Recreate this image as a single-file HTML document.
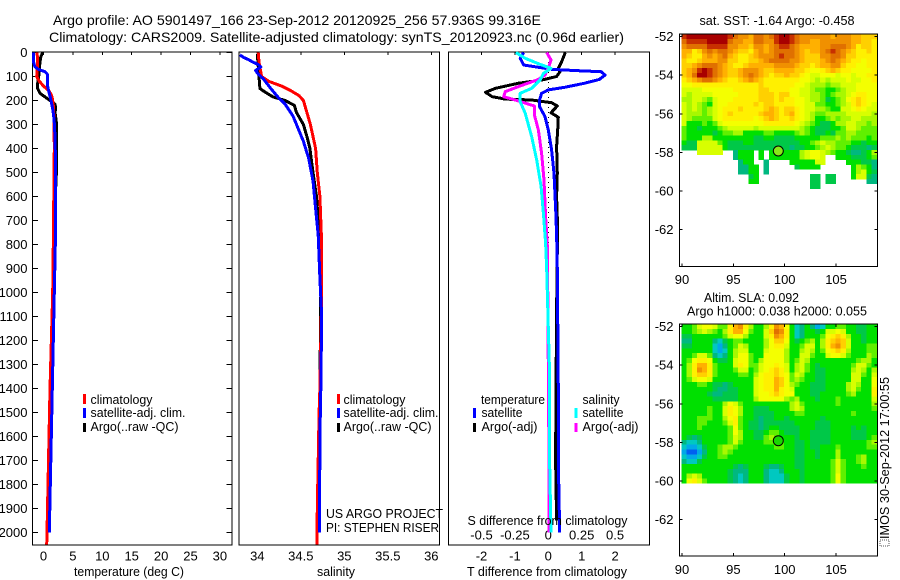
<!DOCTYPE html>
<html lang="en">
<head>
<meta charset="utf-8">
<title>Argo profile 5901497_166</title>
<style>
html,body{margin:0;padding:0;background:#fff;}
svg{display:block;}
text{font-family:"Liberation Sans",Arial,sans-serif;fill:#000;}
</style>
</head>
<body>
<svg id="chart" xmlns="http://www.w3.org/2000/svg" width="900" height="580" viewBox="0 0 900 580">
  <rect x="0" y="0" width="900" height="580" fill="#fff"/>
  <g id="sst-cells"></g>
  <g id="sla-cells"></g>
  <g id="axes"></g>
  <g id="lines"></g>

  <text x="53" y="25" font-size="14" textLength="488" lengthAdjust="spacingAndGlyphs">Argo profile: AO 5901497_166 23-Sep-2012 20120925_256 57.936S 99.316E</text>
  <text x="49" y="42" font-size="14" textLength="575" lengthAdjust="spacingAndGlyphs">Climatology: CARS2009. Satellite-adjusted climatology: synTS_20120923.nc (0.96d earlier)</text>

  <text x="74" y="576" font-size="13" textLength="110" lengthAdjust="spacingAndGlyphs">temperature (deg C)</text>
  <text x="317" y="576" font-size="13" textLength="38" lengthAdjust="spacingAndGlyphs">salinity</text>
  <text x="467" y="576" font-size="13" textLength="160" lengthAdjust="spacingAndGlyphs">T difference from climatology</text>
  <text x="467.5" y="525" font-size="13" textLength="160" lengthAdjust="spacingAndGlyphs">S difference from climatology</text>

  <g font-size="12.5">
    <rect x="83" y="394" width="3" height="10" fill="#f00"/>
    <rect x="83" y="408" width="3" height="10" fill="#00f"/>
    <rect x="83" y="423" width="3" height="9" fill="#000"/>
    <text x="90.5" y="404" textLength="62" lengthAdjust="spacingAndGlyphs">climatology</text>
    <text x="90.5" y="417" textLength="95" lengthAdjust="spacingAndGlyphs">satellite-adj. clim.</text>
    <text x="90.5" y="431" textLength="88" lengthAdjust="spacingAndGlyphs">Argo(..raw -QC)</text>
  </g>
  <g font-size="12.5">
    <rect x="337" y="394" width="3" height="10" fill="#f00"/>
    <rect x="337" y="408" width="3" height="10" fill="#00f"/>
    <rect x="337" y="423" width="3" height="9" fill="#000"/>
    <text x="343.5" y="404" textLength="62" lengthAdjust="spacingAndGlyphs">climatology</text>
    <text x="343.5" y="417" textLength="95" lengthAdjust="spacingAndGlyphs">satellite-adj. clim.</text>
    <text x="343.5" y="431" textLength="88" lengthAdjust="spacingAndGlyphs">Argo(..raw -QC)</text>
  </g>
  <text x="326" y="518" font-size="12.5" textLength="117" lengthAdjust="spacingAndGlyphs">US ARGO PROJECT</text>
  <text x="326" y="532" font-size="12.5" textLength="113" lengthAdjust="spacingAndGlyphs">PI: STEPHEN RISER</text>

  <g font-size="12.5">
    <text x="481" y="404" textLength="64" lengthAdjust="spacingAndGlyphs">temperature</text>
    <rect x="473" y="408" width="3" height="10" fill="#00f"/>
    <rect x="473" y="423" width="3" height="9" fill="#000"/>
    <text x="481.5" y="417" textLength="41" lengthAdjust="spacingAndGlyphs">satellite</text>
    <text x="481.5" y="431" textLength="56" lengthAdjust="spacingAndGlyphs">Argo(-adj)</text>
    <text x="582.5" y="404" textLength="37" lengthAdjust="spacingAndGlyphs">salinity</text>
    <rect x="574.5" y="408" width="3" height="10" fill="#0ff"/>
    <rect x="574.5" y="423" width="3" height="9" fill="#f0f"/>
    <text x="582.5" y="417" textLength="41" lengthAdjust="spacingAndGlyphs">satellite</text>
    <text x="582.5" y="431" textLength="56" lengthAdjust="spacingAndGlyphs">Argo(-adj)</text>
  </g>

  <text x="699.5" y="25" font-size="12.5" textLength="155" lengthAdjust="spacingAndGlyphs">sat. SST: -1.64  Argo: -0.458</text>
  <text x="704" y="302" font-size="12.5" textLength="95" lengthAdjust="spacingAndGlyphs">Altim. SLA: 0.092</text>
  <text x="687" y="315.5" font-size="12.5" textLength="180" lengthAdjust="spacingAndGlyphs">Argo h1000: 0.038 h2000: 0.055</text>

  <circle cx="778.3" cy="151" r="5" fill="#88e818" stroke="#000" stroke-width="1"/>
  <circle cx="778.3" cy="440.7" r="5" fill="#18d800" stroke="#000" stroke-width="1"/>

  <rect x="880" y="540" width="9" height="6" fill="#fff" stroke="#555" stroke-width="1" stroke-dasharray="1 1"/>
  <text transform="translate(889,539) rotate(-90)" x="0" y="0" font-size="12.5" textLength="162" lengthAdjust="spacingAndGlyphs">IMOS 30-Sep-2012 17:00:55</text>
</svg>
<script>
// ---- depth ticks ----
const depthTicks = [0,100,200,300,400,500,600,700,800,900,1000,1100,1200,1300,1400,1500,1600,1700,1800,1900,2000];
const tempTicks = [0,5,10,15,20,25,30];
const salinityTicks = [34,34.5,35,35.5,36];
const salinityTickLabels = ['34','34.5','35','35.5','36'];
const tDiffTicks = [-2,-1,0,1,2];
const sDiffTicks = [-0.5,-0.25,0,0.25,0.5];
const sDiffTickLabels = ['-0.5','-0.25','0','0.25','0.5'];
const lonTicks = [90,95,100,105];
const latTicks = [-52,-54,-56,-58,-60,-62];

// ---- temperature panel series ----
const tempClimDepth = [0,20,50,100,120,140,160,180,200,220,280,400,800,1000,1400,1600,1800,2000,2050];
const tempClimValue = [-1.15,-1,-1,-1.15,-0.7,0,0.93,1.4,1.56,1.67,1.8,1.84,1.67,1.56,1.1,0.93,0.77,0.6,0.55];
const tempSatDepth = [0,40,60,70,80,90,140,160,200,240,280,350,500,800,1000,1400,1600,1800,2000];
const tempSatValue = [-1.73,-1.7,-1.45,-0.88,0.25,0.65,0.7,0.88,1.28,1.6,1.8,1.95,2.07,2,1.84,1.5,1.33,1.16,0.98];
const tempArgoDepth = [0,20,60,100,130,150,170,185,200,215,230,250,300,400,500,600,800,1000,1500,1700,1900];
const tempArgoValue = [-0.15,-0.48,-0.7,-0.82,-1,-1,-0.6,0.25,1.1,1.95,2.07,1.95,2.24,2.24,2.2,2,1.7,1.67,1.22,0.98,0.82];

// ---- salinity panel series ----
const salClimDepth = [0,40,60,100,120,140,160,180,200,250,300,350,400,500,600,800,1000,1400,1500,1700,1900,2050];
const salClimValue = [34.01,34.02,34.03,34.05,34.13,34.28,34.39,34.48,34.53,34.57,34.61,34.64,34.67,34.69,34.72,34.74,34.74,34.72,34.71,34.7,34.69,34.685];
const salSatDepth = [10,20,30,40,50,60,75,90,110,146,187,215,265,300,370,440,535,650,760,940,1100,1400,1600,1800,2000];
const salSatValue = [33.8,33.84,33.9,33.95,34.01,34.04,33.98,34.01,34.07,34.146,34.24,34.32,34.41,34.45,34.53,34.59,34.64,34.67,34.7,34.72,34.74,34.73,34.72,34.717,34.713];
const salArgoDepth = [5,100,150,165,185,200,220,250,300,350,400,500,600,800,1000,1400,1700,1950];
const salArgoValue = [34,34.02,34.03,34.09,34.18,34.32,34.425,34.45,34.53,34.57,34.605,34.64,34.68,34.72,34.73,34.72,34.71,34.69];

// ---- difference panel series ----
const diffTSatDepth = [0,24,52,70,76,80,94,112,128,145,156,170,198,226,267,323,406,503,684,823,906,1400,1700,2000];
const diffTSatValue = [-0.74,-0.84,-0.74,0.1,0.89,1.58,1.7,1.53,1.09,0.49,0,-0.2,-0.26,-0.26,-0.1,0,0.1,0.17,0.23,0.26,0.27,0.3,0.3,0.34];
const diffTArgoDepth = [0,38,66,80,100,115,128,149,166,184,194,198,209,223,251,270,323,392,503,601,740,900,1400,1700,1950];
const diffTArgoValue = [0.51,0.4,0.3,0.35,0.25,-0.2,-0.89,-1.58,-1.88,-1.68,-1.29,-0.5,0.1,0.27,0.08,0.3,0.28,0.25,0.27,0.25,0.28,0.26,0.23,0.22,0.25];
const diffSArgoDepth = [0,31,56,94,112,142,163,184,198,223,260,323,420,531,684,823,906,1700,2000];
const diffSArgoValue = [-0.012,0.02,0.005,-0.025,-0.074,-0.223,-0.322,-0.334,-0.248,-0.104,-0.104,-0.074,-0.05,-0.032,-0.02,-0.005,-0.005,0.005,0.005];
const diffSSatDepth = [0,24,49,66,87,115,149,170,205,253,351,448,559,670,795,906,1340,1700,2000];
const diffSSatValue = [-0.243,-0.173,-0.062,0.02,-0.037,-0.062,-0.124,-0.21,-0.21,-0.173,-0.124,-0.087,-0.054,-0.037,-0.02,-0.012,0.01,0.01,0.02];

// ---- SST map (colour-class per 0.5 x 0.25 degree cell; 0 = no data) ----
const sstRows = [
[15,16,16,16,16,16,16,16,16,15,14,13,13,12,14,14,13,14,15,16,16,15,14,13,13,13,13,13,13,12,13,13,13,12,12,11,11,11],
[14,15,15,15,15,16,16,16,16,14,13,13,12,12,14,14,13,13,15,16,16,15,14,13,13,12,12,13,13,13,13,13,13,12,12,11,11,10],
[13,14,14,14,14,15,15,15,15,13,13,12,12,11,13,13,12,13,14,15,15,14,13,12,12,12,12,13,13,14,14,14,13,12,10,11,11,10],
[12,12,10,11,13,14,13,14,14,13,12,11,11,10,12,13,12,13,14,14,14,14,13,12,11,12,12,13,14,15,14,13,12,11,10,10,11,10],
[12,11,10,10,12,13,12,13,14,12,11,10,10,11,12,13,13,13,14,15,14,14,13,12,11,11,11,13,13,14,14,13,11,11,10,10,10,10],
[11,10,10,11,12,12,12,13,13,11,11,10,10,11,11,12,13,14,14,14,14,13,13,12,11,11,11,12,13,14,13,12,11,10,10,9,10,10],
[11,11,12,13,14,14,14,13,12,11,10,10,11,12,12,12,12,12,13,13,13,13,12,11,11,10,11,12,12,13,13,11,10,10,9,9,10,10],
[11,12,13,15,16,15,14,13,12,11,11,12,13,13,13,12,11,11,12,12,12,12,11,11,10,9,9,10,11,12,11,10,10,9,9,9,9,10],
[11,12,14,16,16,15,14,13,12,11,11,12,13,14,13,12,11,10,11,11,12,11,11,10,9,8,8,9,9,9,8,9,9,8,9,9,10,10],
[10,11,12,13,14,14,13,12,11,10,10,11,12,13,12,11,10,10,10,10,10,10,10,9,9,8,7,8,7,8,8,8,9,8,8,9,9,10],
[9,9,10,10,10,10,10,10,10,10,10,10,10,10,10,11,10,10,10,10,10,10,9,9,8,7,7,7,6,7,7,8,8,8,9,9,9,9],
[8,8,8,8,9,9,9,9,9,9,10,10,10,10,10,11,11,10,10,10,10,9,9,8,8,7,6,6,5,5,6,7,8,8,9,9,9,9],
[8,7,8,8,8,8,9,9,9,9,9,10,10,10,10,11,11,11,10,11,11,9,9,8,8,7,7,6,5,6,7,7,8,9,10,10,9,9],
[7,7,8,8,7,6,8,9,9,9,10,10,10,10,10,11,11,11,10,11,10,10,9,9,8,7,7,6,4,5,6,7,9,10,11,10,9,9],
[8,7,8,7,6,5,8,9,9,10,10,10,10,10,11,10,11,11,10,10,10,10,9,9,8,8,6,6,5,5,6,7,8,10,11,10,9,8],
[8,7,8,7,6,7,8,9,10,10,10,11,10,10,10,10,11,12,11,10,11,11,10,9,8,8,7,7,6,5,5,8,8,9,10,9,8,8],
[8,7,7,7,6,7,8,9,10,11,10,10,10,10,10,11,12,12,11,10,11,12,10,9,8,7,6,6,7,7,7,7,8,8,8,8,8,7],
[8,7,6,6,6,6,8,9,10,10,10,10,10,10,9,10,11,12,11,10,10,11,10,9,8,7,5,5,6,7,6,7,7,8,8,7,7,7],
[8,5,5,5,6,5,6,8,9,9,9,9,9,9,9,9,10,10,10,10,10,10,9,8,7,6,5,4,4,5,7,7,8,8,7,7,6,7],
[6,5,5,4,5,5,5,6,7,8,8,8,8,8,7,8,8,8,8,8,8,8,8,7,6,5,4,4,4,5,5,6,8,8,7,6,6,6],
[6,5,5,5,5,5,4,5,6,6,7,7,5,5,5,5,6,6,5,5,5,5,6,7,6,5,4,4,5,4,6,6,7,7,6,6,6,6],
[6,5,5,5,7,7,5,5,5,5,5,5,5,5,4,4,5,5,4,4,4,4,5,5,5,5,5,6,6,6,7,6,7,6,6,6,5,6],
[5,4,4,8,8,8,8,6,5,4,4,4,5,5,4,4,4,4,4,4,4,4,4,5,5,6,7,8,7,7,6,6,6,5,5,4,5,5],
[4,4,4,8,8,8,8,8,5,4,4,4,4,4,4,4,4,4,4,4,4,3,4,4,5,5,6,7,8,7,6,6,5,4,4,4,3,4],
[0,0,0,8,8,8,8,8,0,0,3,5,5,5,0,5,0,5,5,5,5,5,5,7,8,9,9,8,7,6,5,5,4,3,3,4,5,7],
[0,0,0,0,0,0,0,0,0,0,3,5,5,5,0,5,0,5,5,5,5,5,5,7,8,9,9,8,0,0,5,5,5,4,4,4,5,6],
[0,0,0,0,0,0,0,0,0,0,0,3,5,5,0,0,3,0,0,0,0,5,5,5,5,5,8,8,0,0,0,0,5,5,5,4,4,3],
[0,0,0,0,0,0,0,0,0,0,0,3,3,5,5,0,3,0,0,0,0,0,4,5,5,5,5,0,0,0,0,0,0,5,7,6,5,3],
[0,0,0,0,0,0,0,0,0,0,0,3,3,5,5,0,3,0,0,0,0,0,0,0,0,0,0,0,0,0,0,0,0,5,7,8,5,4],
[0,0,0,0,0,0,0,0,0,0,0,0,0,4,5,0,0,0,0,0,0,0,0,0,0,4,4,0,4,4,0,0,0,5,8,8,4,3],
[0,0,0,0,0,0,0,0,0,0,0,0,0,5,5,0,0,0,0,0,0,0,0,0,0,4,4,0,4,4,0,0,0,0,0,0,3,3],
[0,0,0,0,0,0,0,0,0,0,0,0,0,0,0,0,0,0,0,0,0,0,0,0,0,4,4]
];

// ---- SLA map (colour-class per cell) ----
const slaRows = [
[5,5,6,8,9,9,8,6,6,10,12,13,10,7,5,5,7,10,13,12,9,5,2,3,5,3,1,2,5,5,6,6,5,5,4,4,5,5],
[5,5,6,7,8,7,6,5,7,10,12,12,9,6,5,5,8,11,14,13,10,5,2,3,5,5,4,5,8,8,9,8,5,5,4,4,5,5],
[4,4,5,5,5,5,5,5,6,8,9,9,7,5,5,5,8,10,13,12,10,5,2,3,5,5,5,6,9,10,11,10,7,5,5,4,5,5],
[3,3,5,5,5,5,3,2,4,5,6,6,5,5,5,5,7,9,11,11,9,5,4,5,6,7,5,7,10,11,12,11,8,5,5,4,5,5],
[4,4,5,5,5,5,2,1,3,5,6,8,7,5,5,5,7,9,10,10,8,5,5,6,8,8,5,7,10,12,13,11,8,5,5,5,6,6],
[5,5,5,5,5,5,2,1,2,5,7,8,8,5,5,5,8,9,9,9,7,5,5,7,8,7,5,6,9,10,11,10,7,5,5,5,6,6],
[5,5,6,8,8,6,3,2,3,5,7,9,9,6,5,5,9,9,9,9,7,5,5,8,8,6,5,5,8,9,9,8,6,5,5,5,7,6],
[5,6,9,10,10,9,5,4,4,5,8,9,9,6,5,7,9,9,9,9,7,5,6,8,7,5,5,5,5,5,5,5,5,5,6,7,7,5],
[5,7,10,12,12,10,6,5,5,5,8,10,9,6,6,8,9,9,10,9,8,5,7,8,6,5,4,5,5,5,5,5,5,6,8,8,6,5],
[5,7,10,13,12,10,6,5,5,5,6,8,8,5,6,8,9,10,11,10,8,5,7,8,6,5,4,4,5,5,5,5,5,7,8,7,5,7],
[5,7,10,11,11,10,6,5,5,5,5,6,6,5,7,9,10,10,11,10,9,6,8,7,5,5,4,4,5,5,5,5,5,8,8,6,5,8],
[5,6,8,9,9,8,5,5,5,5,5,5,5,5,8,9,10,10,12,11,9,6,7,6,5,5,4,4,5,5,5,5,5,8,8,5,5,9],
[5,5,5,6,6,5,4,4,3,4,5,5,5,5,8,9,10,10,12,11,9,7,6,5,5,4,4,4,5,5,5,5,7,8,7,5,5,9],
[5,5,5,5,5,5,4,3,3,4,4,5,5,5,8,9,10,10,12,10,9,8,5,5,5,4,4,4,5,5,5,5,7,8,6,5,5,10],
[5,5,5,5,5,4,3,3,4,4,4,5,5,5,8,9,9,10,11,10,9,9,5,5,5,4,4,5,5,5,5,5,6,7,5,5,5,10],
[5,5,5,5,5,5,4,4,4,4,4,5,5,5,7,9,9,9,9,9,7,6,7,5,5,5,4,5,5,5,6,5,5,5,5,5,5,8],
[5,5,5,5,5,5,5,5,7,9,8,6,5,5,5,5,5,5,5,5,5,7,8,6,5,5,5,5,5,5,6,5,5,5,5,5,5,7],
[5,5,5,5,5,6,5,5,8,10,9,7,5,5,4,4,4,5,5,5,5,7,8,7,5,5,5,5,5,5,5,5,5,5,5,5,5,6],
[5,5,5,5,5,6,5,5,8,10,9,7,5,5,4,4,4,4,5,5,5,5,6,6,5,5,5,5,5,5,5,5,5,6,5,5,5,5],
[5,5,5,6,6,6,5,5,7,9,10,6,5,5,4,3,4,4,5,5,4,5,5,5,5,5,5,4,5,5,5,5,5,5,5,5,5,5],
[5,5,5,6,6,5,5,5,6,8,10,6,5,4,4,3,4,4,4,4,4,4,5,5,5,5,4,4,4,5,5,5,5,5,5,5,5,5],
[5,5,5,6,5,5,5,5,5,6,9,6,5,4,4,3,4,5,5,4,4,4,4,5,5,5,4,4,4,5,5,5,5,4,5,4,5,5],
[5,5,5,5,5,5,5,5,5,6,9,7,5,5,4,4,5,6,6,5,4,4,4,5,5,4,4,4,4,5,5,5,5,4,4,4,5,5],
[5,4,3,4,5,5,5,5,5,6,8,7,5,5,4,4,6,7,6,5,5,5,4,5,5,4,4,4,4,5,5,5,5,4,4,4,5,6],
[3,2,2,3,5,5,5,5,5,6,8,6,5,5,5,5,6,6,6,6,5,5,4,4,5,4,4,4,4,5,5,5,5,5,5,5,6,7],
[2,1,1,2,4,5,5,6,7,7,6,5,5,5,5,5,5,5,6,6,5,5,4,4,5,4,4,5,5,5,6,5,5,5,5,5,6,6],
[1,-1,-1,1,3,5,5,6,7,6,5,5,5,5,5,5,5,5,5,5,5,5,4,4,5,5,4,5,5,5,7,5,5,5,5,5,5,5],
[2,1,1,2,4,5,5,6,6,5,5,5,5,5,5,5,5,5,5,5,5,5,4,4,5,5,4,5,5,5,7,5,5,5,6,7,5,5],
[3,2,2,4,5,5,5,5,5,5,5,5,5,5,5,5,5,5,5,5,5,5,4,4,5,5,5,5,5,6,8,6,5,5,6,7,5,5],
[5,5,5,5,5,5,5,5,5,5,4,3,4,5,5,5,4,3,3,4,5,5,4,4,5,5,5,5,5,6,8,6,5,5,5,6,5,5],
[5,5,5,5,5,5,5,5,5,4,3,3,3,5,5,5,3,2,2,3,5,5,5,4,5,5,5,5,5,6,8,6,5,5,5,5,5,5],
[5,7,8,7,5,5,5,5,5,4,3,2,3,5,5,5,3,2,2,2,4,5,5,4,5,5,5,5,5,6,9,6,5,5,5,5,5,5],
[5,9,10,8,6,5,5,5,5,4,3,2,3,5,5,5,3,2,2,2,4,5,5,4,5,5,5,5,5,6,9,6,5,5,5,5,5,5]
];

// colour lookup for the map classes
const classColors = {
  '-1':'#0060f0', 1:'#00a8e8', 2:'#00c8c0', 3:'#00b880', 4:'#00c848', 5:'#00e000',
  6:'#60f000', 7:'#a8f800', 8:'#d8ff00', 9:'#f4ff00', 10:'#fff000', 11:'#ffd000',
  12:'#ffb000', 13:'#f09000', 14:'#e07000', 15:'#c83000', 16:'#a80000'
};

// ---- axis functions ----
const yDepth = d => 52.5 + 0.24 * d;
const xTemp = t => 43.5 + 5.88 * t;
const xSal = s => 257.3 + 87 * (s - 34);
const xDT = t => 548.3 + 33.4 * t;
const xDS = s => 548.3 + 133.6 * s;
const xLon = lon => 682 + 10.27 * (lon - 90);
const yLatTop = lat => 36.7 + 19.27 * (-52 - lat);
const yLatBottom = lat => 326.7 + 19.27 * (-52 - lat);

const NS = 'http://www.w3.org/2000/svg';
const axesGroup = document.getElementById('axes');
const linesGroup = document.getElementById('lines');

function make(tag, attrs, parent) {
  const node = document.createElementNS(NS, tag);
  for (const k in attrs) node.setAttribute(k, attrs[k]);
  parent.appendChild(node);
  return node;
}
function hairline(x1, y1, x2, y2, name) {
  const el = make('line', {x1, y1, x2, y2, stroke: '#000', 'stroke-width': 1, 'shape-rendering': 'crispEdges'}, axesGroup);
  
  
  return el;
}
function label(x, y, str, anchor, name) {
  const el = make('text', {x, y, 'font-size': 13, 'text-anchor': anchor}, axesGroup);
  el.textContent = str;
  
  
  return el;
}
function frame(l, t, r, b, name) {
  const el = make('rect', {x: l, y: t, width: r - l, height: b - t, fill: 'none', stroke: '#000', 'stroke-width': 1.4, 'shape-rendering': 'crispEdges'}, axesGroup);
  
  
}
function profile(depths, values, xFn, color, name, width) {
  const pts = depths.map((d, i) => xFn(values[i]).toFixed(1) + ',' + yDepth(d).toFixed(1)).join(' ');
  const el = make('polyline', {points: pts, fill: 'none', stroke: color, 'stroke-width': width || 3, 'shape-rendering': 'crispEdges', 'stroke-linejoin': 'round'}, linesGroup);
  
  
}
function heatmap(rows, groupId, topY, name) {
  const group = document.getElementById(groupId);
  rows.forEach((row, j) => row.forEach((v, i) => {
    if (!v) return;
    const el = make('rect', {x: (xLon(90 + i * 0.5) - 0.5).toFixed(1), y: (topY + j * 4.82).toFixed(1), width: 5.5, height: 5.2, fill: classColors[v], 'shape-rendering': 'crispEdges'}, group);
    
    
  }));
}

// ---- heatmaps ----
heatmap(sstRows, 'sst-cells', 34.3, 'sst-cell');
heatmap(slaRows, 'sla-cells', 324.2, 'sla-cell');

// cover any cell overflow on the right of the maps
const mapMaskA = make('rect', {x: 878, y: 30, width: 5, height: 240, fill: '#fff'}, axesGroup);


const mapMaskB = make('rect', {x: 878, y: 320, width: 1.5, height: 240, fill: '#fff'}, axesGroup);



// ---- frames ----
frame(32.5, 52, 232, 545, 'temperature-panel-frame');
frame(239, 52, 439.5, 545, 'salinity-panel-frame');
frame(448.5, 52, 649.5, 545, 'difference-panel-frame');
frame(679.5, 34, 877.5, 266.5, 'sst-map-frame');
frame(679.5, 324, 877.5, 556, 'sla-map-frame');

// ---- depth axis ----
depthTicks.forEach(d => {
  hairline(32.5, yDepth(d), 38, yDepth(d), 'depth-tick-left');
  hairline(226.5, yDepth(d), 232, yDepth(d), 'depth-tick-right');
  label(27.5, yDepth(d) + 4.5, String(d), 'end', 'depth-tick-label');
});

// ---- temperature axis ----
tempTicks.forEach(t => {
  hairline(xTemp(t), 52, xTemp(t), 55, 'temperature-tick-top');
  label(xTemp(t), 560.5, String(t), 'middle', 'temperature-tick-label');
});

// ---- salinity axis ----
salinityTicks.forEach((s, i) => {
  hairline(xSal(s), 52, xSal(s), 55, 'salinity-tick-top');
  label(xSal(s), 560.5, salinityTickLabels[i], 'middle', 'salinity-tick-label');
});

// ---- difference axes ----
tDiffTicks.forEach(t => {
  hairline(xDT(t), 52, xDT(t), 55, 'difference-tick-top');
  label(xDT(t), 560.5, String(t), 'middle', 't-difference-tick-label');
});
sDiffTicks.forEach((s, i) => {
  label(xDS(s), 539.5, sDiffTickLabels[i], 'middle', 's-difference-tick-label');
});
const zeroLine = make('line', {x1: xDT(0), y1: 52, x2: xDT(0), y2: 530, stroke: '#000', 'stroke-width': 1, 'stroke-dasharray': '1 4', 'shape-rendering': 'crispEdges'}, axesGroup);



// ---- map axes ----
lonTicks.forEach(lon => {
  hairline(xLon(lon), 34, xLon(lon), 37, 'sst-lon-tick');
  hairline(xLon(lon), 263.5, xLon(lon), 266.5, 'sst-lon-tick');
  label(xLon(lon), 284, String(lon), 'middle', 'sst-lon-label');
  hairline(xLon(lon), 324, xLon(lon), 327, 'sla-lon-tick');
  hairline(xLon(lon), 553, xLon(lon), 556, 'sla-lon-tick');
  label(xLon(lon), 574, String(lon), 'middle', 'sla-lon-label');
});
latTicks.forEach(lat => {
  hairline(679.5, yLatTop(lat), 682.5, yLatTop(lat), 'sst-lat-tick');
  hairline(874.5, yLatTop(lat), 877.5, yLatTop(lat), 'sst-lat-tick');
  label(673.5, yLatTop(lat) + 4.5, String(lat), 'end', 'sst-lat-label');
  hairline(679.5, yLatBottom(lat), 682.5, yLatBottom(lat), 'sla-lat-tick');
  hairline(874.5, yLatBottom(lat), 877.5, yLatBottom(lat), 'sla-lat-tick');
  label(673.5, yLatBottom(lat) + 4.5, String(lat), 'end', 'sla-lat-label');
});

// ---- profile lines ----
profile(tempArgoDepth, tempArgoValue, xTemp, '#000', 'temperature-argo-line');
profile(tempClimDepth, tempClimValue, xTemp, '#f00', 'temperature-climatology-line');
profile(tempSatDepth, tempSatValue, xTemp, '#00f', 'temperature-satellite-line');

profile(salArgoDepth, salArgoValue, xSal, '#000', 'salinity-argo-line');
profile(salClimDepth, salClimValue, xSal, '#f00', 'salinity-climatology-line');
profile(salSatDepth, salSatValue, xSal, '#00f', 'salinity-satellite-line');

profile(diffTArgoDepth, diffTArgoValue, xDT, '#000', 't-difference-argo-line');
profile(diffTSatDepth, diffTSatValue, xDT, '#00f', 't-difference-satellite-line');
profile(diffSArgoDepth, diffSArgoValue, xDS, '#f0f', 's-difference-argo-line');
profile(diffSSatDepth, diffSSatValue, xDS, '#0ff', 's-difference-satellite-line');
</script>
</body>
</html>
